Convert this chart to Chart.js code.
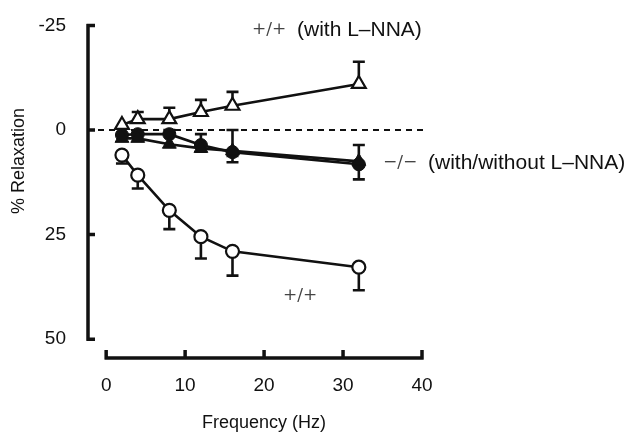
<!DOCTYPE html>
<html lang="en">
<head>
<meta charset="UTF-8" />
<title>% Relaxation vs Frequency</title>
<script src="https://cdn.jsdelivr.net/npm/chart.js"></script>
<style>
  html, body { margin: 0; padding: 0; background: #fff; }
  #wrap { width: 630px; height: 434px; }
</style>
</head>
<body>
<div id="wrap"><canvas id="relaxChart" width="630" height="434"></canvas></div>
<script>
// frequencies (Hz)
const freq = [2, 4, 8, 12, 16, 32];

// +/+ with L-NNA (open triangles)
const wtLnna = [-1.2, -2.6, -2.6, -4.3, -5.8, -11];
const wtLnnaErrUp = [0, 1.7, 2.7, 2.9, 3.3, 5.3];
const wtLnnaErrDown = [0, 0, 0, 0, 0, 0];

// -/- without L-NNA (filled circles)
const koCtrl = [1.2, 1, 1, 3.6, 5.3, 8.2];
const koCtrlErrUp = [0, 0, 1, 2.6, 5.3, 4.6];
const koCtrlErrDown = [0, 0, 0, 0, 2.4, 3.6];

// -/- with L-NNA (filled triangles)
const koLnna = [2, 2, 3.4, 4.4, 5, 7.5];
const koLnnaErrUp = [0, 0, 0, 0, 0, 0];
const koLnnaErrDown = [0, 0, 0, 0.8, 1.2, 1];

// +/+ (open circles)
const wtCtrl = [6, 10.8, 19.2, 25.5, 29, 32.8];
const wtCtrlErrUp = [0, 0, 0, 0, 0, 0];
const wtCtrlErrDown = [2, 3.2, 4.5, 5.2, 5.8, 5.5];

const xTicks = [0, 10, 20, 30, 40];
const yTicks = [-25, 0, 25, 50];

const ink = '#111';

function pts(ys) {
  return freq.map((x, i) => ({ x: x, y: ys[i] }));
}

const errs = [
  [wtLnnaErrUp, wtLnnaErrDown],
  [koLnnaErrUp, koLnnaErrDown],
  [koCtrlErrUp, koCtrlErrDown],
  [wtCtrlErrUp, wtCtrlErrDown],
];

// spines, ticks, dashed zero line, error bars and labels
const axesPlugin = {
  id: 'axes',
  beforeDatasetsDraw(chart) {
    const { ctx, chartArea, scales } = chart;
    const xs = scales.x, ys = scales.y;
    ctx.save();
    ctx.strokeStyle = ink;
    ctx.lineWidth = 3.5;
    ctx.lineCap = 'butt';
    const lx = chartArea.left;
    ctx.beginPath();
    ctx.moveTo(lx, ys.getPixelForValue(-25) - 1.5);
    ctx.lineTo(lx, ys.getPixelForValue(50) + 1.5);
    yTicks.forEach(v => {
      const py = ys.getPixelForValue(v);
      ctx.moveTo(lx - 1.5, py);
      ctx.lineTo(lx + 7, py);
    });
    ctx.stroke();

    const by = chartArea.bottom;
    ctx.beginPath();
    ctx.moveTo(xs.getPixelForValue(0) - 1.5, by);
    ctx.lineTo(xs.getPixelForValue(40) + 1.5, by);
    xTicks.forEach(v => {
      const px = xs.getPixelForValue(v);
      ctx.moveTo(px, by + 1.5);
      ctx.lineTo(px, by - 8);
    });
    ctx.stroke();

    // dashed zero line
    ctx.lineWidth = 1.8;
    ctx.setLineDash([6, 5]);
    ctx.beginPath();
    const zy = ys.getPixelForValue(0);
    ctx.moveTo(lx + 10, zy);
    ctx.lineTo(xs.getPixelForValue(40.2), zy);
    ctx.stroke();
    ctx.setLineDash([]);

    // error bars
    ctx.lineWidth = 2.6;
    chart.data.datasets.forEach((ds, di) => {
      const [up, down] = errs[di];
      ds.data.forEach((p, i) => {
        const px = xs.getPixelForValue(p.x);
        [-up[i], down[i]].forEach(e => {
          if (!e) return;
          const y0 = ys.getPixelForValue(p.y);
          const y1 = ys.getPixelForValue(p.y + e);
          ctx.beginPath();
          ctx.moveTo(px, y0);
          ctx.lineTo(px, y1);
          ctx.moveTo(px - 6, y1);
          ctx.lineTo(px + 6, y1);
          ctx.stroke();
        });
      });
    });
    ctx.restore();
  },
  afterDraw(chart) {
    const { ctx } = chart;
    ctx.save();
    ctx.textBaseline = 'middle';
    ctx.textAlign = 'left';
    const sym = '17px "DejaVu Serif", serif';
    const big = '21px "Liberation Sans", Arial, sans-serif';
    function label(symbol, sx, rest, rx, y) {
      ctx.font = sym;
      ctx.fillStyle = '#444';
      ctx.fillText(symbol, sx, y);
      if (rest) {
        ctx.font = big;
        ctx.fillStyle = ink;
        ctx.fillText(rest, rx, y);
      }
    }
    label('+/+', 252, '(with L\u2013NNA)', 297, 30);
    label('\u2212/\u2212', 383, '(with/without L\u2013NNA)', 428, 163);
    label('+/+', 283, '', 0, 296);

    ctx.font = '18px "Liberation Sans", Arial, sans-serif';
    ctx.fillStyle = ink;
    ctx.textAlign = 'center';
    ctx.fillText('Frequency (Hz)', 264, 423);
    ctx.translate(19, 161);
    ctx.rotate(-Math.PI / 2);
    ctx.fillText('% Relaxation', 0, 0);
    ctx.restore();
  }
};

const ctx = document.getElementById('relaxChart').getContext('2d');
new Chart(ctx, {
  type: 'line',
  data: {
    datasets: [
      {
        label: '+/+ (with L-NNA)',
        data: pts(wtLnna),
        borderColor: ink, borderWidth: 2.6,
        pointStyle: 'triangle', pointRadius: 8,
        pointBackgroundColor: '#fff', pointBorderColor: ink, pointBorderWidth: 2.2,
      },
      {
        label: '-/- (with L-NNA)',
        data: pts(koLnna),
        borderColor: ink, borderWidth: 2.6,
        pointStyle: 'triangle', pointRadius: 8,
        pointBackgroundColor: ink, pointBorderColor: ink, pointBorderWidth: 1,
      },
      {
        label: '-/- (without L-NNA)',
        data: pts(koCtrl),
        borderColor: ink, borderWidth: 2.6,
        pointStyle: 'circle', pointRadius: 6.5,
        pointBackgroundColor: ink, pointBorderColor: ink, pointBorderWidth: 1,
      },
      {
        label: '+/+',
        data: pts(wtCtrl),
        borderColor: ink, borderWidth: 2.6,
        pointStyle: 'circle', pointRadius: 6.5,
        pointBackgroundColor: '#fff', pointBorderColor: ink, pointBorderWidth: 2.2,
      },
    ],
  },
  options: {
    responsive: false,
    animation: false,
    layout: { padding: { left: 0, right: 208, top: 24, bottom: 0 } },
    plugins: { legend: { display: false }, tooltip: { enabled: false } },
    scales: {
      x: {
        type: 'linear', min: -2.3, max: 40,
        afterBuildTicks: s => { s.ticks = xTicks.map(v => ({ value: v })); },
        afterFit: s => { s.height = 76; },
        grid: { display: false }, border: { display: false },
        ticks: { color: ink, padding: 8, font: { size: 19, family: '"Liberation Sans", Arial, sans-serif' } },
      },
      y: {
        type: 'linear', min: -25, max: 54.5, reverse: true,
        afterBuildTicks: s => { s.ticks = yTicks.map(v => ({ value: v })); },
        afterFit: s => { s.width = 88; },
        grid: { display: false }, border: { display: false },
        ticks: { color: ink, padding: 14, font: { size: 19, family: '"Liberation Sans", Arial, sans-serif' } },
      },
    },
  },
  plugins: [axesPlugin],
});
</script>
</body>
</html>
